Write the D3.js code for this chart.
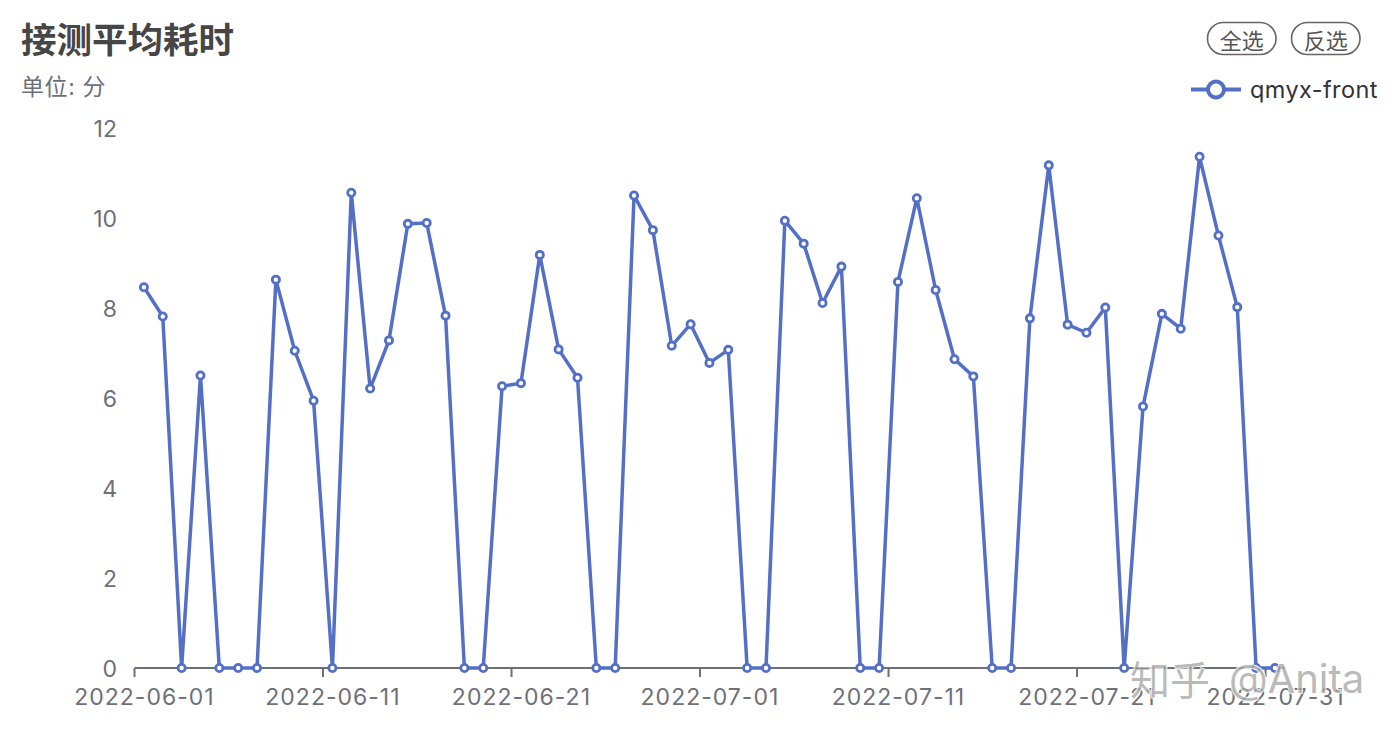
<!DOCTYPE html>
<html><head><meta charset="utf-8">
<script src="https://cdn.jsdelivr.net/npm/d3@7"></script>
<style>
html,body{margin:0;padding:0;background:#fff;}
svg{display:block;}
text{font-family:Inter,"Noto Sans CJK SC",sans-serif;}
</style></head>
<body><svg id="c" width="1400" height="734"></svg>
<script>
const titleText = "接测平均耗时";
const subtitleText = "单位: 分";
const seriesName = "qmyx-front";
const buttons = ["全选", "反选"];
const watermarkParts = ["知乎", "@Anita"];
const dates = [
 "2022-06-01","2022-06-02","2022-06-03","2022-06-04","2022-06-05","2022-06-06","2022-06-07","2022-06-08","2022-06-09","2022-06-10",
 "2022-06-11","2022-06-12","2022-06-13","2022-06-14","2022-06-15","2022-06-16","2022-06-17","2022-06-18","2022-06-19","2022-06-20",
 "2022-06-21","2022-06-22","2022-06-23","2022-06-24","2022-06-25","2022-06-26","2022-06-27","2022-06-28","2022-06-29","2022-06-30",
 "2022-07-01","2022-07-02","2022-07-03","2022-07-04","2022-07-05","2022-07-06","2022-07-07","2022-07-08","2022-07-09","2022-07-10",
 "2022-07-11","2022-07-12","2022-07-13","2022-07-14","2022-07-15","2022-07-16","2022-07-17","2022-07-18","2022-07-19","2022-07-20",
 "2022-07-21","2022-07-22","2022-07-23","2022-07-24","2022-07-25","2022-07-26","2022-07-27","2022-07-28","2022-07-29","2022-07-30",
 "2022-07-31"
];
const values = [
 8.46,7.81,0,6.50,0,0,0,8.63,7.05,5.94,
 0,10.56,6.21,7.28,9.87,9.89,7.83,0,0,6.26,
 6.33,9.18,7.08,6.45,0,0,10.50,9.73,7.16,7.64,
 6.78,7.07,0,0,9.94,9.43,8.11,8.92,0,0,
 8.58,10.44,8.40,6.86,6.48,0,0,7.77,11.17,7.63,
 7.45,8.01,0,5.81,7.87,7.54,11.36,9.61,8.02,0,
 0
];
const yTicks = [0,2,4,6,8,10,12];
const labelEvery = 10;

const color = "#5470c6";
const axisColor = "#6e7079";
const svg = d3.select("#c");
const gLeft = 134.5, gRight = 1284.4, gTop = 128, gBottom = 668;

const x = d3.scaleBand().domain(dates).range([gLeft, gRight]).paddingInner(0).paddingOuter(0);
const y = d3.scaleLinear().domain([0, 12]).range([gBottom, gTop]);

// title
svg.append("text").attr("x", 21).attr("y", 37).attr("dominant-baseline","central")
  .attr("font-size", 35.5).attr("font-weight", "bold").attr("fill", "#464646")
  .style("font-family", "'Noto Sans CJK SC',sans-serif").text(titleText);
svg.append("text").attr("x", 21).attr("y", 87).attr("dominant-baseline","central")
  .attr("font-size", 23).attr("fill", "#6e7079").attr("letter-spacing", 0.6)
  .text(subtitleText);

// buttons
const btnX = [1207.5, 1291.5];
buttons.forEach((b, i) => {
  svg.append("rect").attr("x", btnX[i]).attr("y", 22.5).attr("width", 68.5).attr("height", 32)
    .attr("rx", 16).attr("fill", "#fff").attr("stroke", "#666").attr("stroke-width", 1.6);
  svg.append("text").attr("x", btnX[i] + 34.25).attr("y", 38.5).attr("text-anchor","middle")
    .attr("dominant-baseline","central").attr("font-size", 22).attr("fill", "#555")
    .style("font-family", "'Noto Sans CJK SC',sans-serif").text(b);
});

// legend
svg.append("line").attr("x1", 1191).attr("x2", 1241).attr("y1", 89.5).attr("y2", 89.5)
  .attr("stroke", color).attr("stroke-width", 4);
svg.append("circle").attr("cx", 1216).attr("cy", 89.5).attr("r", 8)
  .attr("fill", "#fff").attr("stroke", color).attr("stroke-width", 4);
svg.append("text").attr("x", 1250).attr("y", 89.5).attr("dominant-baseline","central")
  .attr("font-size", 23.5).attr("letter-spacing", 0.4).attr("fill", "#333").text(seriesName);

// y axis labels (no axis line)
const yAxis = d3.axisLeft(y).tickValues(yTicks).tickSize(0).tickPadding(0);
const gy = svg.append("g").attr("transform", `translate(117,0)`).call(yAxis);
gy.select(".domain").remove();
gy.selectAll("text").attr("font-size", 23).attr("fill", axisColor).attr("dy", "0.35em")
  .style("font-family", "Inter,sans-serif");

// x axis
const gx = svg.append("g").attr("transform", `translate(0,${gBottom})`);
gx.append("line").attr("x1", gLeft).attr("x2", gRight).attr("y1", 0).attr("y2", 0)
  .attr("stroke", axisColor).attr("stroke-width", 2);
const labelled = dates.filter((d, i) => i % labelEvery === 0);
gx.selectAll("line.tick").data(labelled).enter().append("line").attr("class","tick")
  .attr("x1", d => x(d)).attr("x2", d => x(d)).attr("y1", 0).attr("y2", 9)
  .attr("stroke", axisColor).attr("stroke-width", 2);
gx.selectAll("text.lbl").data(labelled).enter().append("text").attr("class","lbl")
  .attr("x", d => x(d) + x.bandwidth()/2 + 0.5).attr("y", 29).attr("text-anchor","middle")
  .attr("dominant-baseline","central").attr("font-size", 23).attr("letter-spacing", 1)
  .attr("fill", axisColor)
  .text(d => d);

// line
const line = d3.line().x((d, i) => x(dates[i]) + x.bandwidth()/2).y(d => y(d));
svg.append("path").datum(values).attr("d", line).attr("fill","none")
  .attr("stroke", color).attr("stroke-width", 3.5).attr("stroke-linejoin","round");
svg.selectAll("circle.pt").data(values).enter().append("circle").attr("class","pt")
  .attr("cx", (d, i) => x(dates[i]) + x.bandwidth()/2).attr("cy", d => y(d)).attr("r", 3.6)
  .attr("fill", "#fff").attr("stroke", color).attr("stroke-width", 2.8);

// watermark
const wm = svg.append("text").attr("y", 678).attr("dominant-baseline","central")
  .attr("font-size", 40).attr("fill", "rgba(140,140,140,0.6)")
  .attr("stroke", "rgba(255,255,255,0.85)").attr("stroke-width", 2).attr("paint-order","stroke");
wm.append("tspan").attr("x", 1130).style("font-family", "'Noto Sans CJK SC',sans-serif").text(watermarkParts[0] + " ");
wm.append("tspan").attr("x", 1229).text(watermarkParts[1]);
</script></body></html>
